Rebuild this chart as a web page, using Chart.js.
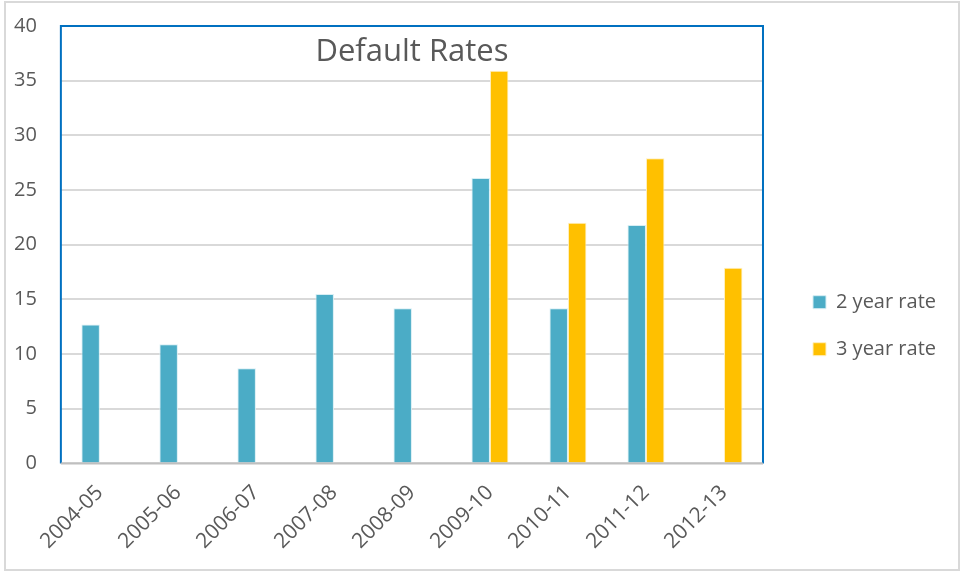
<!DOCTYPE html>
<html lang="en">
  <head>
    <meta charset="UTF-8" />
    <title>Default Rates</title>
    <style>
      html, body { margin: 0; padding: 0; background: #fff; }
      .frame {
        position: absolute;
        left: 4px;
        top: 1px;
        width: 956px;
        height: 570px;
        border: 2px solid #d9d9d9;
        box-sizing: border-box;
      }
      .chart-container {
        position: absolute;
        left: 0;
        top: 0;
        width: 964px;
        height: 575px;
      }
    </style>
    <script src="https://cdn.jsdelivr.net/npm/chart.js"></script>
  </head>
  <body>
    <div class="frame"></div>
    <div class="chart-container">
      <canvas id="rateChart" width="964" height="575"></canvas>
    </div>
    <script>
      var years = ["2004-05", "2005-06", "2006-07", "2007-08", "2008-09", "2009-10", "2010-11", "2011-12", "2012-13"];
      var twoYearRate = [12.7, 10.9, 8.7, 15.5, 14.2, 26.1, 14.2, 21.8, null];
      var threeYearRate = [null, null, null, null, null, 35.9, 22.0, 27.9, 17.9];
      var yTicks = [0, 5, 10, 15, 20, 25, 30, 35, 40];

      var textColor = "#595959";
      var fontFamily = "'Open Sans', sans-serif";

      // plot area border (blue on top/left/right, grey axis line at bottom) and title inside it
      var plotFrame = {
        id: "plotFrame",
        afterLayout: function (chart) {
          // push the legend a bit away from the plot area
          chart.legend.left += 23;
          chart.legend.right += 23;
        },
        afterDraw: function (chart) {
          var ctx = chart.ctx;
          var a = chart.chartArea;
          ctx.save();
          ctx.strokeStyle = "#0070c0";
          ctx.lineWidth = 2;
          ctx.beginPath();
          ctx.moveTo(a.left, a.bottom);
          ctx.lineTo(a.left, a.top);
          ctx.lineTo(a.right, a.top);
          ctx.lineTo(a.right, a.bottom);
          ctx.stroke();
          ctx.strokeStyle = "#bfbfbf";
          ctx.beginPath();
          ctx.moveTo(a.left, a.bottom);
          ctx.lineTo(a.right, a.bottom);
          ctx.stroke();

          ctx.fillStyle = textColor;
          ctx.font = "31px " + fontFamily;
          ctx.textAlign = "center";
          ctx.textBaseline = "alphabetic";
          ctx.fillText("Default Rates", (a.left + a.right) / 2, a.top + 35);
          ctx.restore();
        },
      };

      var ctx = document.getElementById("rateChart").getContext("2d");
      var rateChart = new Chart(ctx, {
        type: "bar",
        data: {
          labels: years,
          datasets: [
            {
              label: "2 year rate",
              data: twoYearRate,
              backgroundColor: "#4bacc6",
              borderColor: "#d7eef4",
              borderWidth: 1,
            },
            {
              label: "3 year rate",
              data: threeYearRate,
              backgroundColor: "#ffc000",
              borderColor: "#fff0c0",
              borderWidth: 1,
            },
          ],
        },
        options: {
          responsive: false,
          animation: false,
          layout: {
            padding: { left: 14, top: 26, right: 41, bottom: 4 },
          },
          datasets: {
            bar: {
              categoryPercentage: 0.474,
              barPercentage: 1.0,
            },
          },
          scales: {
            x: {
              afterFit: function (axis) {
                axis.paddingLeft = 0;
                axis.paddingRight = 0;
              },
              grid: { display: false, drawTicks: false },
              border: { display: false },
              ticks: {
                color: textColor,
                font: { family: fontFamily, size: 21 },
                minRotation: 45,
                maxRotation: 45,
                padding: 17,
              },
            },
            y: {
              min: 0,
              max: 40,
              afterBuildTicks: function (axis) {
                axis.ticks = yTicks.map(function (v) { return { value: v }; });
              },
              afterFit: function (axis) {
                axis.paddingTop = 0;
                axis.paddingBottom = 0;
                // tick padding is counted twice in the width, keep it once
                axis.width -= axis.options.ticks.padding;
              },
              grid: { color: "#d9d9d9", lineWidth: 2, drawTicks: false },
              border: { display: false },
              ticks: {
                color: textColor,
                font: { family: fontFamily, size: 20 },
                padding: 24,
              },
            },
          },
          plugins: {
            title: { display: false },
            tooltip: { enabled: false },
            legend: {
              position: "right",
              title: { display: true, text: "", padding: { top: 20, bottom: 20 } },
              labels: {
                color: textColor,
                font: { family: fontFamily, size: 20 },
                boxWidth: 13,
                boxHeight: 13,
                padding: 27,
              },
            },
          },
        },
        plugins: [plotFrame],
      });
    </script>
  </body>
</html>
